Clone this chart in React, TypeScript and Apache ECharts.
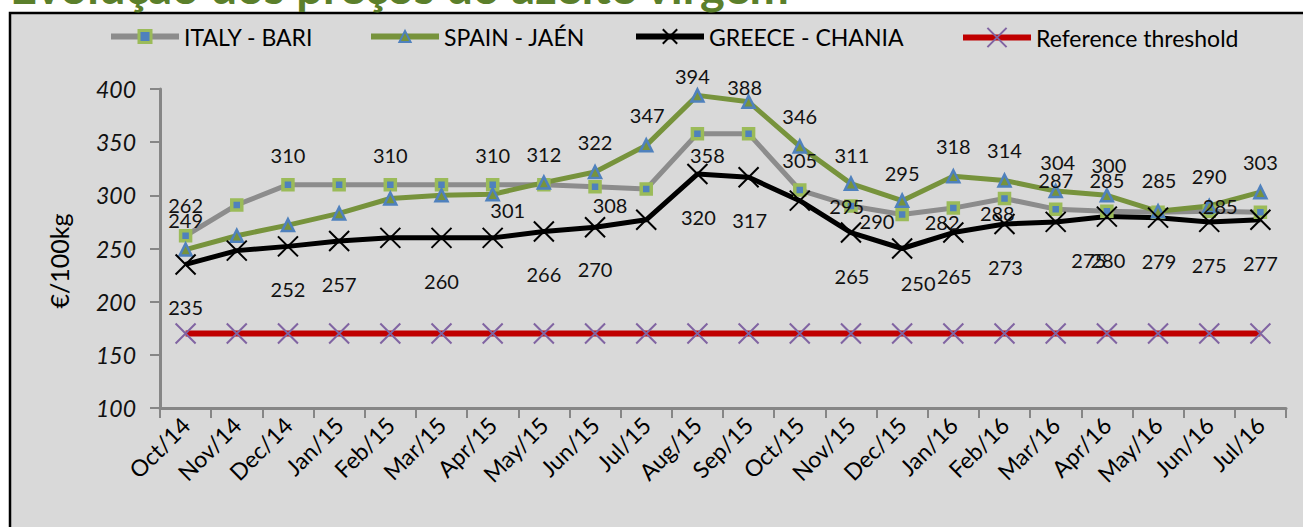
import { useEffect, useRef } from "react";
import * as echarts from "echarts";

const months = ["Oct/14", "Nov/14", "Dec/14", "Jan/15", "Feb/15", "Mar/15", "Apr/15", "May/15", "Jun/15", "Jul/15", "Aug/15", "Sep/15", "Oct/15", "Nov/15", "Dec/15", "Jan/16", "Feb/16", "Mar/16", "Apr/16", "May/16", "Jun/16", "Jul/16"];
const italyBari = [262, 291, 310, 310, 310, 310, 310, 310, 308, 306, 358, 358, 305, 290, 282, 288, 297, 287, 285, 284, 285, 284];
const spainJaen = [249, 262, 272, 283, 297, 300, 301, 312, 322, 347, 394, 388, 346, 311, 295, 318, 314, 304, 300, 285, 290, 303];
const greeceChania = [235, 248, 252, 257, 260, 260, 260, 266, 270, 277, 320, 317, 295, 265, 250, 265, 273, 275, 280, 279, 275, 277];
const referenceThreshold = [170, 170, 170, 170, 170, 170, 170, 170, 170, 170, 170, 170, 170, 170, 170, 170, 170, 170, 170, 170, 170, 170];

const yMin = 100;
const yMax = 400;
const yStep = 50;

const titleText = "Evolução dos preços do azeite virgem";
const yAxisTitle = "€/100kg";
const seriesNames = ["ITALY - BARI", "SPAIN - JAÉN", "GREECE - CHANIA", "Reference threshold"];

// Label placement (offset of label centre from its point, px); null = no label shown
type Off = [number, number] | null;
const italyLabelOffsets: Off[] = [[0, -31], null, [0, -30], null, [0, -30], null, [0, -30], null, [15, 18], null, [10, 21], null, [0, -30], [26, 15], [40, 8], [44, 5], null, [0, -29], [0, -31], null, [11, -5], null];
const spainLabelOffsets: Off[] = [[0, -30], null, null, null, null, null, [15, 16], [0, -29], [0, -30], [1, -30], [-5, -19], [-4, -15], [0, -30], [1, -29], [0, -28], [0, -30], [0, -30], [2, -29], [2, -30], [1, -31], [0, -30], [0, -30]];
const greeceLabelOffsets: Off[] = [[0, 43], null, [0, 43], [0, 43], null, [0, 43], null, [0, 43], [0, 42], null, [1, 43], [1, 43], [47, 5], [1, 43], [16, 34], [1, 43], [1, 43], [33, 38], [1, 43], [1, 43], [0, 43], [0, 43]];

const FONT = "Lato";
const X_PATH = "path://M0,0L10,10M10,0L0,10";

function withLabels(values: number[], offsets: Off[]) {
  return values.map((v, i) => {
    const off = offsets[i];
    return off
      ? { value: v, label: { show: true, position: "inside", offset: off } }
      : { value: v, label: { show: false } };
  });
}

export default function App() {
  const ref = useRef<HTMLDivElement>(null);
  useEffect(() => {
    if (!ref.current) return;
    const chart = echarts.init(ref.current, null, { renderer: "svg" });
    const labelStyle = {
      fontFamily: FONT,
      fontSize: 20,
      color: "#111",
    };
    const legendItem = (name: string, left: number, itemHeight: number, top: number, extra: any) => ({
      data: [name],
      left,
      top,
      padding: 0,
      itemWidth: 68,
      itemHeight,
      itemGap: 0,
      textStyle: { fontFamily: FONT, fontSize: 23, color: "#000" },
      ...extra,
    });
    chart.setOption({
      animation: false,
      backgroundColor: "#ffffff",
      graphic: [
        {
          type: "rect",
          z: -10,
          shape: { x: 10, y: 13, width: 1400, height: 600 },
          style: { fill: "#d9d9d9", stroke: "#000", lineWidth: 2.5 },
        },
        {
          type: "text",
          z: 100,
          x: 10,
          y: -14,
          style: {
            text: titleText,
            fontFamily: FONT,
            fontWeight: "bold",
            fontSize: 47,
            fill: "#5b7f2b",
            verticalAlign: "middle",
            align: "left",
          },
        },
        {
          type: "text",
          z: 100,
          x: 59,
          y: 261,
          rotation: Math.PI / 2,
          style: {
            text: yAxisTitle,
            fontFamily: FONT,
            fontSize: 25,
            fill: "#000",
            align: "center",
            verticalAlign: "middle",
          },
        },
      ],
      legend: [
        legendItem(seriesNames[0], 108, 15, 25, { lineStyle: { width: 6 }, itemStyle: { borderWidth: 3 } }),
        legendItem(seriesNames[1], 368, 14, 25, { lineStyle: { width: 6 }, itemStyle: { borderWidth: 2 } }),
        legendItem(seriesNames[2], 633, 18, 25, { lineStyle: { width: 6 }, itemStyle: { borderWidth: 2 } }),
        legendItem(seriesNames[3], 960, 24, 26, { lineStyle: { width: 6 }, itemStyle: { borderWidth: 2 } }),
      ],
      grid: { left: 160, right: 17, top: 89, bottom: 119, containLabel: false },
      xAxis: {
        type: "category",
        data: months,
        boundaryGap: true,
        axisLine: { show: true, lineStyle: { color: "#868686", width: 3 } },
        axisTick: { show: true, inside: false, length: 10, lineStyle: { color: "#868686", width: 2 } },
        axisLabel: {
          interval: 0,
          rotate: 45,
          margin: 13,
          fontFamily: FONT,
          fontSize: 23,
          color: "#000",
        },
        splitLine: { show: false },
      },
      yAxis: {
        type: "value",
        min: yMin,
        max: yMax,
        interval: yStep,
        axisLine: { show: true, lineStyle: { color: "#868686", width: 3 } },
        axisTick: { show: true, inside: false, length: 10, lineStyle: { color: "#868686", width: 2 } },
        axisLabel: {
          margin: 24,
          fontFamily: FONT,
          fontStyle: "italic",
          fontSize: 23,
          color: "#111",
        },
        splitLine: { show: false },
      },
      series: [
        {
          name: seriesNames[0],
          type: "line",
          data: withLabels(italyBari, italyLabelOffsets),
          symbol: "rect",
          symbolSize: 10,
          lineStyle: { color: "#8c8c8c", width: 5 },
          itemStyle: { color: "#4f81bd", borderColor: "#9bbb59", borderWidth: 3.5 },
          label: labelStyle,
        },
        {
          name: seriesNames[1],
          type: "line",
          data: withLabels(spainJaen, spainLabelOffsets),
          symbol: "triangle",
          symbolSize: 12,
          lineStyle: { color: "#77933c", width: 5 },
          itemStyle: { color: "#77933c", borderColor: "#4f81bd", borderWidth: 2.5 },
          label: labelStyle,
        },
        {
          name: seriesNames[2],
          type: "line",
          data: withLabels(greeceChania, greeceLabelOffsets),
          symbol: X_PATH,
          symbolSize: 20,
          lineStyle: { color: "#000000", width: 5 },
          itemStyle: { color: "#000000", borderColor: "#000000", borderWidth: 2 },
          label: labelStyle,
        },
        {
          name: seriesNames[3],
          type: "line",
          data: referenceThreshold,
          symbol: X_PATH,
          symbolSize: 20,
          lineStyle: { color: "#c00000", width: 6 },
          itemStyle: { color: "#8064a2", borderColor: "#8064a2", borderWidth: 2 },
          label: { show: false },
        },
      ],
    });
    return () => chart.dispose();
  }, []);
  return (
    <div
      ref={ref}
      style={{ position: "fixed", left: 0, top: 0, width: 1303, height: 527 }}
    />
  );
}
